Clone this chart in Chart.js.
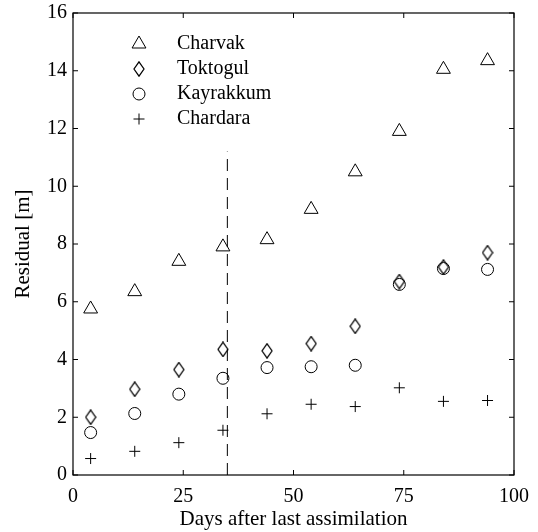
<!DOCTYPE html>
<html>
<head>
<meta charset="utf-8">
<script src="https://cdn.jsdelivr.net/npm/chart.js@4/dist/chart.umd.min.js"></script>
<style>
  body { margin: 0; background: #fff; }
  #wrap { width: 538px; height: 532px; }
</style>
</head>
<body>
<div id="wrap"><canvas id="residuals"></canvas></div>
<script>
  // days after last assimilation
  const days = [4, 14, 24, 34, 44, 54, 64, 74, 84, 94];
  const charvak   = [5.75, 6.35, 7.4, 7.9, 8.15, 9.2, 10.5, 11.9, 14.05, 14.35];
  const toktogul  = [2.0, 2.97, 3.65, 4.35, 4.3, 4.55, 5.15, 6.7, 7.2, 7.7];
  const kayrakkum = [1.47, 2.13, 2.8, 3.35, 3.72, 3.75, 3.8, 6.6, 7.15, 7.12];
  const chardara  = [0.57, 0.82, 1.12, 1.55, 2.12, 2.45, 2.37, 3.02, 2.55, 2.58];
  const cutoffDay = 35;
  const cutoffTop = 11.2;
  const xTicks = [0, 25, 50, 75, 100];
  const yTicks = [0, 2, 4, 6, 8, 10, 12, 14, 16];

  const serif = "'Liberation Serif', 'Times New Roman', serif";

  // narrow diamond like matlab's 'd' marker
  const diamond = document.createElement('canvas');
  diamond.width = 12; diamond.height = 16;
  let dc = diamond.getContext('2d');
  dc.strokeStyle = '#000';
  dc.lineWidth = 1.25;
  dc.beginPath();
  dc.moveTo(6, 0.8); dc.lineTo(11, 8); dc.lineTo(6, 15.2); dc.lineTo(1, 8);
  dc.closePath();
  dc.stroke();

  const pts = ys => days.map((d, i) => ({x: d, y: ys[i]}));

  function series(label, ys, style, r) {
    return {
      label: label,
      data: pts(ys),
      showLine: false,
      pointStyle: style,
      pointRadius: r,
      pointHoverRadius: r,
      pointBorderWidth: 1,
      pointBorderColor: '#000',
      pointBackgroundColor: 'rgba(0,0,0,0)',
      borderColor: '#000',
      backgroundColor: 'rgba(0,0,0,0)'
    };
  }

  const frame = {
    id: 'frame',
    afterDraw(chart) {
      const {ctx, chartArea: a, scales} = chart;
      ctx.save();
      ctx.strokeStyle = '#000';
      ctx.lineWidth = 1.2;
      ctx.strokeRect(a.left, a.top, a.right - a.left, a.bottom - a.top);
      ctx.lineWidth = 1;
      ctx.beginPath();
      xTicks.forEach(v => {
        const px = scales.x.getPixelForValue(v);
        ctx.moveTo(px, a.bottom); ctx.lineTo(px, a.bottom - 5);
        ctx.moveTo(px, a.top); ctx.lineTo(px, a.top + 5);
      });
      yTicks.forEach(v => {
        const py = scales.y.getPixelForValue(v);
        ctx.moveTo(a.left, py); ctx.lineTo(a.left + 5, py);
        ctx.moveTo(a.right, py); ctx.lineTo(a.right - 5, py);
      });
      ctx.stroke();

      // legend inside the plot
      ctx.font = '20px ' + serif;
      ctx.textBaseline = 'middle';
      chart.data.datasets.forEach((ds, i) => {
        if (ds.type === 'line') return;
        const y = a.top + 31 + i * 25;
        ctx.fillStyle = 'rgba(0,0,0,0)';
        ctx.strokeStyle = '#000';
        ctx.lineWidth = 1;
        Chart.helpers.drawPoint(ctx, {
          pointStyle: ds.pointStyle, radius: ds.pointRadius, borderWidth: 1, rotation: 0
        }, a.left + 66, y);
        ctx.fillStyle = '#000';
        ctx.fillText(ds.label, a.left + 104, y);
      });
      ctx.restore();
    }
  };

  new Chart(document.getElementById('residuals'), {
    type: 'scatter',
    data: {
      datasets: [
        series('Charvak', charvak, 'triangle', 8),
        series('Toktogul', toktogul, diamond, 6),
        series('Kayrakkum', kayrakkum, 'circle', 6),
        series('Chardara', chardara, 'cross', 5.5),
        {
          type: 'line',
          label: 'cutoff',
          data: [{x: cutoffDay, y: 0}, {x: cutoffDay, y: cutoffTop}],
          borderColor: '#000',
          borderWidth: 1,
          borderDash: [12, 7],
          pointRadius: 0,
          fill: false
        }
      ]
    },
    options: {
      responsive: true,
      maintainAspectRatio: false,
      animation: false,
      layout: { padding: {top: 13, right: 24, left: 0, bottom: 0} },
      plugins: {
        legend: { display: false },
        tooltip: { enabled: false }
      },
      scales: {
        x: {
          type: 'linear',
          min: 0, max: 100,
          afterBuildTicks: s => { s.ticks = xTicks.map(v => ({value: v})); },
          afterFit: s => { s.height = 57; s.paddingLeft = 0; s.paddingRight = 0; },
          grid: { display: false, drawTicks: false },
          border: { display: false },
          ticks: { color: '#000', padding: 10, maxRotation: 0, font: {family: serif, size: 20} },
          title: {
            display: true,
            text: 'Days after last assimilation',
            color: '#000',
            padding: {top: 0, bottom: 0},
            font: {family: serif, size: 21}
          }
        },
        y: {
          min: 0, max: 16,
          afterBuildTicks: s => { s.ticks = yTicks.map(v => ({value: v})); },
          afterFit: s => { s.width = 73; s.paddingTop = 0; s.paddingBottom = 0; },
          grid: { display: false, drawTicks: false },
          border: { display: false },
          ticks: { color: '#000', padding: 6, font: {family: serif, size: 20} },
          title: {
            display: true,
            text: 'Residual [m]',
            color: '#000',
            padding: {top: 11, bottom: 0},
            font: {family: serif, size: 21}
          }
        }
      }
    },
    plugins: [frame]
  });
</script>
</body>
</html>
